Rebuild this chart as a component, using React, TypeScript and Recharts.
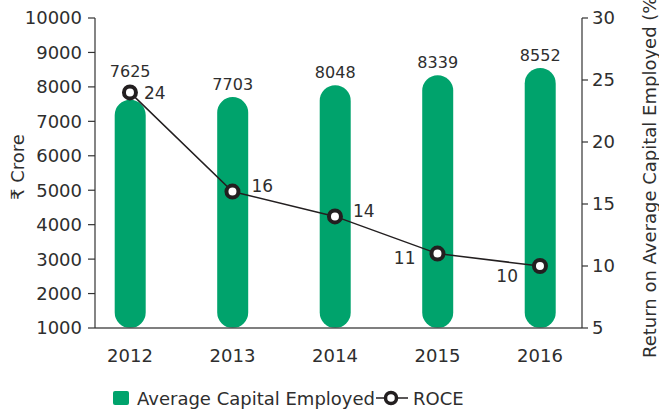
import React from 'react';
import { ComposedChart, Bar, Line, XAxis, YAxis, LabelList, Label } from 'recharts';

const years = [2012, 2013, 2014, 2015, 2016];
const capitalEmployed = [7625, 7703, 8048, 8339, 8552];
const roce = [24, 16, 14, 11, 10];
const leftTicks = [1000, 2000, 3000, 4000, 5000, 6000, 7000, 8000, 9000, 10000];
const rightTicks = [5, 10, 15, 20, 25, 30];

const data = years.map((year, i) => ({ year, capital: capitalEmployed[i], roce: roce[i] }));

const GREEN = '#00a36c';
const DARK = '#231f20';
const TEXT = '#2e2e2e';
const FONT = "'DejaVu Sans', sans-serif";

const BarValueLabel = (props: any) => {
  const { x, y, width, value, index } = props;
  const off = index === 0 ? 23 : 7;
  return (
    <text x={x + width / 2} y={y - off} textAnchor="middle" fill={TEXT} fontSize={16} fontFamily={FONT}>
      {value}
    </text>
  );
};

const roceLabelPos = [
  { dx: 14, dy: 0, anchor: 'start' },
  { dx: 19, dy: -6, anchor: 'start' },
  { dx: 18, dy: -6, anchor: 'start' },
  { dx: -22, dy: 4, anchor: 'end' },
  { dx: -22, dy: 10, anchor: 'end' },
];

const RoceLabel = (props: any) => {
  const { x, y, value, index } = props;
  const p = roceLabelPos[index] || roceLabelPos[0];
  return (
    <text x={x + p.dx} y={y + p.dy} dy="0.36em" textAnchor={p.anchor} fill={TEXT} fontSize={17} fontFamily={FONT}>
      {value}
    </text>
  );
};

const RoceDot = (props: any) => {
  const { cx, cy, index } = props;
  return <circle key={`dot-${index}`} cx={cx} cy={cy} r={6} fill="#ffffff" stroke={DARK} strokeWidth={4} />;
};

const tickStyle = { fill: TEXT, fontSize: 18, fontFamily: FONT };

export default function App() {
  return (
    <div style={{ position: 'absolute', left: 0, top: 0, width: 659, height: 411, fontFamily: FONT, background: '#fff' }}>
      <ComposedChart
        width={659}
        height={411}
        data={data}
        margin={{ top: 18, right: 0, bottom: 43, left: 0 }}
      >
        <XAxis
          dataKey="year"
          type="number"
          domain={[2011.659, 2016.41]}
          ticks={years}
          allowDataOverflow
          height={40}
          tickLine={false}
          tickSize={6}
          tickMargin={15}
          axisLine={{ stroke: '#555', strokeWidth: 1.5 }}
          tick={tickStyle}
        />
        <YAxis
          yAxisId="left"
          orientation="left"
          width={95}
          domain={[1000, 10000]}
          ticks={leftTicks}
          allowDataOverflow
          tickSize={7}
          tickMargin={6}
          axisLine={{ stroke: '#333', strokeWidth: 1.2 }}
          tickLine={{ stroke: '#333', strokeWidth: 1.2 }}
          tick={tickStyle}
          interval={0}
        >
          <Label
            content={() => (
              <text
                x={24}
                y={167}
                transform="rotate(-90, 24, 167)"
                textAnchor="middle"
                fill={TEXT}
                fontSize={18}
                fontFamily={FONT}
              >
                ₹ Crore
              </text>
            )}
          />
        </YAxis>
        <YAxis
          yAxisId="right"
          orientation="right"
          width={77}
          domain={[5, 30]}
          ticks={rightTicks}
          allowDataOverflow
          tickSize={6}
          tickMargin={4}
          axisLine={{ stroke: '#333', strokeWidth: 1.2 }}
          tickLine={{ stroke: '#333', strokeWidth: 1.2 }}
          tick={tickStyle}
          interval={0}
        >
          <Label
            content={() => (
              <text
                x={656}
                y={358}
                transform="rotate(-90, 656, 358)"
                textAnchor="start"
                fill={TEXT}
                fontSize={18}
                fontFamily={FONT}
              >
                Return on Average Capital Employed (%)
              </text>
            )}
          />
        </YAxis>
        <Bar
          yAxisId="left"
          dataKey="capital"
          fill={GREEN}
          barSize={31}
          radius={15.5}
          isAnimationActive={false}
        >
          <LabelList dataKey="capital" content={BarValueLabel} />
        </Bar>
        <Line
          yAxisId="right"
          dataKey="roce"
          stroke={DARK}
          strokeWidth={1.5}
          dot={RoceDot}
          activeDot={false}
          isAnimationActive={false}
        >
          <LabelList dataKey="roce" content={RoceLabel} />
        </Line>
      </ComposedChart>
      <svg width={659} height={411} style={{ position: 'absolute', left: 0, top: 0, pointerEvents: 'none' }}>
        <rect x={113} y={391} width={16} height={14} rx={2} fill={GREEN} />
        <text x={137} y={405} fill={TEXT} fontSize={18} fontFamily={FONT}>Average Capital Employed</text>
        <line x1={376} y1={398} x2={408} y2={398} stroke={DARK} strokeWidth={1.5} />
        <circle cx={391} cy={398} r={5.5} fill="#fff" stroke={DARK} strokeWidth={3.5} />
        <text x={413} y={405} fill={TEXT} fontSize={18} fontFamily={FONT}>ROCE</text>
      </svg>
    </div>
  );
}
